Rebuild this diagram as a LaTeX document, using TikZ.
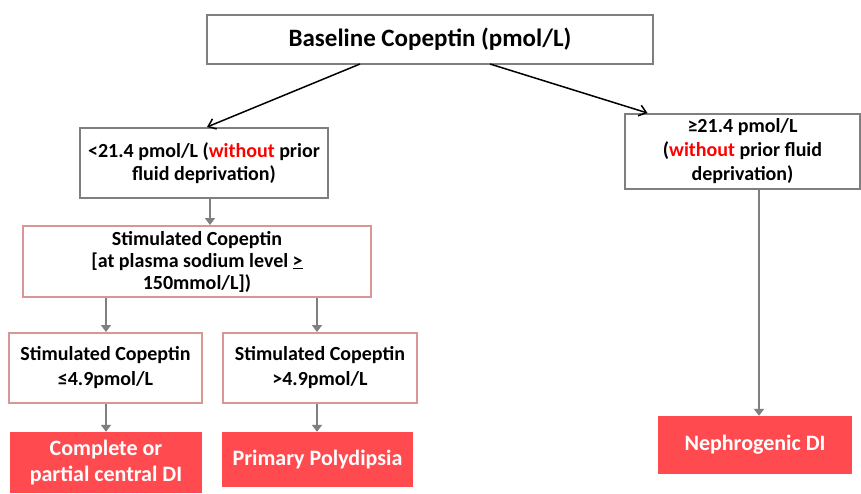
\documentclass[tikz,border=0pt]{standalone}
\usepackage{fontspec}
\setmainfont{Carlito}
\usetikzlibrary{arrows.meta,calc}
\definecolor{boxgray}{HTML}{7F7F7F}
\definecolor{pinkline}{HTML}{D99694}
\definecolor{redfill}{HTML}{FF4B4F}
\definecolor{redtext}{HTML}{FF0000}
\tikzset{
  graybox/.style={draw=boxgray,line width=2pt,fill=white,align=center,inner sep=0pt,
    font=\bfseries\fontsize{20}{23.5}\selectfont},
  pinkbox/.style={draw=pinkline,line width=2pt,fill=white,align=center,inner sep=0pt,
    font=\bfseries\fontsize{20}{22}\selectfont},
  redbox/.style={draw=none,fill=redfill,text=white,align=center,inner sep=0pt,
    font=\bfseries\fontsize{22}{26}\selectfont},
  blkarrow/.style={draw=black,line width=1.5pt,-{Straight Barb[length=7pt,width=11pt,line width=1.5pt]}},
  grayarrow/.style={draw=boxgray,line width=2.5pt,-{Triangle[length=7pt,width=10pt]}}
}
\begin{document}
\begin{tikzpicture}[x=1pt,y=-1pt]
\useasboundingbox[fill=white] (0,0) rectangle (861,493);
\node[graybox,minimum width=446pt,minimum height=49pt,font=\bfseries\fontsize{25}{28}\selectfont] (top) at (430,39.5) {Baseline Copeptin (pmol/L)};
\node[graybox,minimum width=248pt,minimum height=70pt] (b2) at (204,163) {<21.4 pmol/L (\textcolor{redtext}{without} prior\\fluid deprivation)};
\node[graybox,minimum width=235pt,minimum height=75pt,font=\bfseries\fontsize{20}{24}\selectfont] (b3) at (742.5,151.5) {≥21.4 pmol/L\\(\textcolor{redtext}{without} prior fluid\\deprivation)};
\node[pinkbox,minimum width=348pt,minimum height=71pt] (stim) at (197,261.5) {Stimulated Copeptin\\{[}at plasma sodium level \underline{>}\\150mmol/L{]})};
\node[pinkbox,minimum width=193pt,minimum height=70pt,font=\bfseries\fontsize{20}{25}\selectfont] (b4) at (105.5,368) {Stimulated Copeptin\\≤4.9pmol/L};
\node[pinkbox,minimum width=194pt,minimum height=70pt,font=\bfseries\fontsize{20}{25}\selectfont] (b5) at (320,368) {Stimulated Copeptin\\>4.9pmol/L};
\node[redbox,minimum width=192pt,minimum height=61pt] (r6) at (106,462.5) {Complete or\\partial central DI};
\node[redbox,minimum width=191pt,minimum height=55pt] (r7) at (317.5,459.5) {Primary Polydipsia};
\node[redbox,minimum width=194pt,minimum height=58pt] (r8) at (755,445) {Nephrogenic DI};
\draw[blkarrow] ([xshift=-70pt,yshift=1pt]top.south) -- ([xshift=3pt]b2.north);
\draw[blkarrow] ([xshift=60pt,yshift=1pt]top.south) -- ([xshift=-95pt]b3.north);
\draw[grayarrow] ([xshift=6pt]b2.south) -- ([xshift=6pt]b2.south |- stim.north);
\draw[grayarrow] ([xshift=0.5pt]b4.north |- stim.south) -- ([xshift=0.5pt]b4.north);
\draw[grayarrow] ([xshift=-3pt]b5.north |- stim.south) -- ([xshift=-3pt]b5.north);
\draw[grayarrow] ([xshift=0.5pt]b4.south) -- ([xshift=0.5pt]b4.south |- r6.north);
\draw[grayarrow] ([xshift=-3pt]b5.south) -- ([xshift=-3pt]b5.south |- r7.north);
\draw[grayarrow] ([xshift=4pt]r8.north |- b3.south) -- ([xshift=4pt]r8.north);
\end{tikzpicture}
\end{document}
